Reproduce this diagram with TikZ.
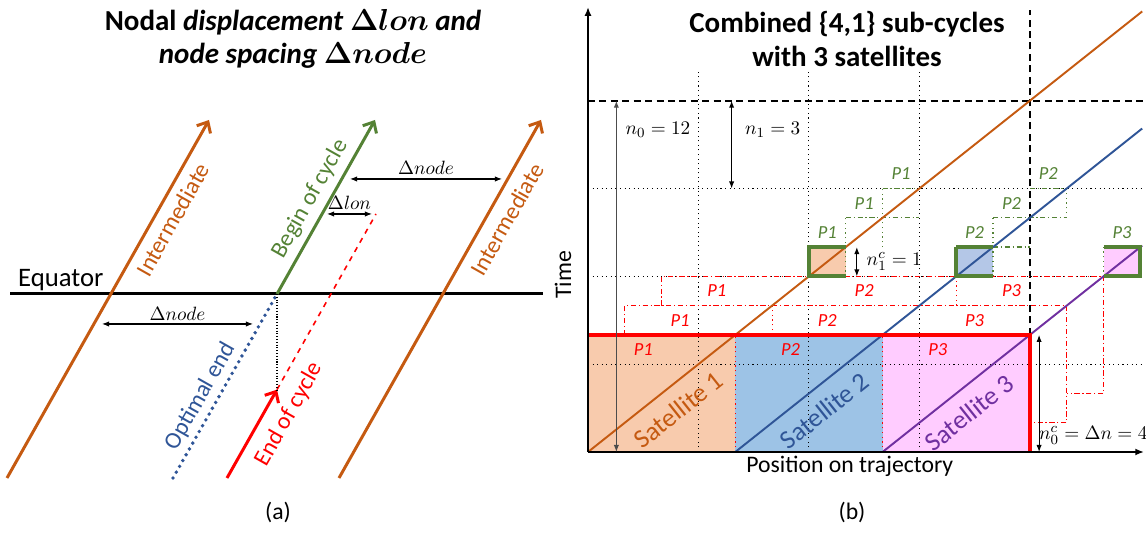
\documentclass[tikz,border=0pt]{standalone}
\usepackage{amsmath}
\usepackage{fontspec}
\setmainfont{Carlito}
\usetikzlibrary{arrows.meta}

\definecolor{satorange}{HTML}{C55A11}
\definecolor{satblue}{HTML}{2F5597}
\definecolor{satpurple}{HTML}{7030A0}
\definecolor{cycgreen}{HTML}{548235}
\definecolor{fillorange}{HTML}{F8CBAD}
\definecolor{fillblue}{HTML}{9DC3E6}
\definecolor{fillpink}{HTML}{FFCCFF}
\definecolor{filllightblue}{HTML}{B4C7E7}

\begin{document}
\begin{tikzpicture}[x=0.02cm, y=0.02cm,
    track/.style={line width=1.7pt, -{Straight Barb[length=5pt, width=9pt]}},
    dimarrow/.style={line width=0.6pt, {Latex[length=4pt, width=3pt]}-{Latex[length=4pt, width=3pt]}},
    lbl/.style={font=\fontsize{13.5}{16}\selectfont},
    ttl/.style={font=\fontsize{16.5}{19}\selectfont\bfseries, align=center},
    mlab/.style={font=\fontsize{11}{13}\selectfont},
    gridline/.style={black, line width=0.6pt, dotted},
    bound/.style={black, line width=1.2pt, dash pattern=on 4pt off 2.5pt},
    subred/.style={red, line width=0.7pt, dash pattern=on 3pt off 1.5pt on 0.7pt off 1.5pt},
    subgreen/.style={cycgreen, line width=0.7pt, dash pattern=on 3pt off 1.5pt on 0.7pt off 1.5pt},
    sepred/.style={red, line width=0.7pt, dotted},
    sepgreen/.style={cycgreen, line width=0.7pt, dotted},
    plab/.style={font=\fontsize{10.5}{12}\selectfont\itshape},
    sat/.style={line width=1.1pt},
    satlab/.style={font=\fontsize{15}{18}\selectfont, sloped, below=4pt},
]
  \useasboundingbox (0,0) rectangle (1146,550);

  % --- Titles ---
  \node[ttl] (titleA) at (293,511) {Nodal \textit{displacement} {\boldmath$\Delta lon$} \textit{and}\\ \textit{node spacing} {\boldmath$\Delta node$}};
  \node[ttl] (titleB) at (847,511) {Combined \{4,1\} sub-cycles\\ with 3 satellites};
  \node[lbl] (capA) at (278,38) {(a)};
  \node[lbl] (capB) at (852,38) {(b)};

  % ===== (a) nodal displacement =====
  \begin{scope}[shift={(277,256)}]
    % --- Coordinates ---
    \coordinate (eqW) at (-267,0);
    \coordinate (eqE) at (266,0);
    \coordinate (j) at (0,0); % cycle node on the equator
    \coordinate (beginTop) at (98,174);
    \coordinate (intLBot) at (-270,-184);
    \coordinate (intLTop) at (-68,174);
    \coordinate (intRBot) at (62,-184);
    \coordinate (intRTop) at (264,174);
    \coordinate (optBot) at (-104,-184);
    \coordinate (endBot) at (-50,-184);
    \coordinate (endTip) at (0,-95.6);
    \coordinate (endTop) at (99,80);

    % --- Equator ---
    \draw[line width=1.7pt] (eqW) -- (eqE);
    \node[lbl, font=\fontsize{15.2}{18}\selectfont, anchor=base west] (eqlabel) at (-265,7) {Equator};

    % --- Ground tracks ---
    \draw[track, satorange] (intLBot) -- (intLTop)
      node[lbl, pos=0.746, sloped, below=1pt] (intL) {Intermediate};
    \draw[track, satorange] (intRBot) -- (intRTop)
      node[lbl, pos=0.749, sloped, below=2pt] (intR) {Intermediate};
    \draw[track, cycgreen] (j) -- (beginTop)
      node[lbl, pos=0.497, sloped, above=0pt] (beginlab) {Begin of cycle};
    \draw[satblue, line width=2.2pt, line cap=round, dash pattern=on 0pt off 3.8pt] (optBot) -- (j)
      node[lbl, pos=0.40, sloped, above=-1pt] (optlab) {Optimal end};
    \draw[track, red] (endBot) -- (endTip)
      node[lbl, pos=0.845, sloped, below=3pt] (endlab) {End of cycle};
    \draw[red, line width=0.9pt, dashed] (endTip) -- (endTop);
    \draw[line width=0.6pt, densely dotted] (j) -- (endTip);

    % --- Spacing arrows ---
    \coordinate (lonA) at (50,80);
    \coordinate (lonB) at (95,80);
    \draw[dimarrow] (lonA) -- (lonB) node[mlab, midway, above=-1pt] (lonlab) {$\Delta lon$};
    \coordinate (nodeA) at (73,115);
    \coordinate (nodeB) at (225,115);
    \draw[dimarrow] (nodeA) -- (nodeB) node[mlab, midway, above=-1pt] (nodelab) {$\Delta node$};
    \coordinate (nodeC) at (-175,-30);
    \coordinate (nodeD) at (-24,-30);
    \draw[dimarrow] (nodeC) -- (nodeD) node[mlab, midway, above=-1.5pt] (nodelab2) {$\Delta node$};
  \end{scope}

  % ===== (b) combined sub-cycles =====
  \begin{scope}[shift={(588,98)}, x=0.7366cm, y=0.5856cm]
    % --- Coordinates ---
    \coordinate (o) at (0,0);
    \coordinate (xend) at (15.1,0);
    \coordinate (yend) at (0,15.2);

    % --- Partitions of the cycle ---
    \fill[fillorange] (0,0) rectangle (4,4);
    \fill[fillblue] (4,0) rectangle (8,4);
    \fill[fillpink] (8,0) rectangle (12,4);
    \fill[fillorange] (6,6) rectangle (7,7);
    \fill[filllightblue] (10,6) rectangle (11,7);
    \fill[fillpink] (14,6) rectangle (15,7);

    % --- Grid ---
    \foreach \x in {3,6,9} \draw[gridline] (\x,0) -- (\x,13);
    \foreach \y in {3,6,9} \draw[gridline] (0,\y) -- (15.1,\y);
    \draw[bound] (0,12) -- (15.1,12);
    \draw[bound] (12,4) -- (12,15.1);

    % --- Sub-cycles n1 (red) ---
    \draw[subred] (1,4) -- (1,5) -- (13,5) -- (13,1) -- (12,1);
    \draw[subred] (2,5) -- (2,6) -- (14,6) -- (14,2) -- (13,2);
    \draw[sepred] (4,0) -- (4,4);
    \draw[sepred] (8,0) -- (8,4);
    \draw[sepred] (5,4) -- (5,5);
    \draw[sepred] (10,5) -- (10,6);

    % --- Sub-cycles n1c (green) ---
    \draw[subgreen] (7,8) -- (9,8);
    \draw[subgreen] (8,9) -- (9,9);
    \draw[subgreen] (11,8) -- (13,8);
    \draw[subgreen] (12,9) -- (13,9);
    \draw[subgreen] (11,7) -- (12,7);
    \draw[sepgreen] (7,6) -- (7,8);
    \draw[sepgreen] (8,7) -- (8,9);
    \draw[sepgreen] (11,6) -- (11,8);
    \draw[sepgreen] (13,8) -- (13,9);
    \draw[sepgreen] (14,6) -- (14,7);

    % --- Satellites ---
    \coordinate (s1a) at (0,0);
    \coordinate (s1b) at (15.05,15.05);
    \coordinate (s2a) at (4,0);
    \coordinate (s2b) at (15.05,11.05);
    \coordinate (s3a) at (8,0);
    \coordinate (s3b) at (15.05,7.05);
    \draw[sat, satorange] (s1a) -- (s1b) node[satlab, pos=0.137] (sat1) {Satellite 1};
    \draw[sat, satblue] (s2a) -- (s2b) node[satlab, pos=0.184] (sat2) {Satellite 2};
    \draw[sat, satpurple] (s3a) -- (s3b) node[satlab, pos=0.278] (sat3) {Satellite 3};

    % --- Cycle borders ---
    \draw[red, line width=2.2pt] (0,4) -- (12,4) -- (12,0);
    \draw[cycgreen, line width=2.2pt] (7,7) -- (6,7) -- (6,6) -- (7,6);
    \draw[cycgreen, line width=2.2pt] (10,7) -- (11,7);
    \draw[cycgreen, line width=2.2pt] (11,6) -- (10,6) -- (10,7);
    \draw[cycgreen, line width=2.2pt] (14,7) -- (15,7) -- (15,6) -- (14,6);

    % --- Axes ---
    \draw[line width=1.4pt, -{Latex[length=5pt, width=4pt]}] (o) -- (xend);
    \draw[line width=1.4pt, -{Latex[length=5pt, width=4pt]}] (o) -- (yend);
    \node[lbl, rotate=90] (tlab) at (-0.68,6.05) {Time};
    \node[lbl] (xlab) at (7.11,-0.48) {Position on trajectory};

    % --- Cycle lengths ---
    \coordinate (n0a) at (0.77,0);
    \coordinate (n0b) at (0.77,12);
    \draw[dimarrow, black!70] (n0a) -- (n0b);
    \node[mlab, anchor=west] (n0lab) at (0.85,11.0) {$n_0 = 12$};
    \coordinate (n1a) at (3.9,12);
    \coordinate (n1b) at (3.9,9);
    \draw[dimarrow] (n1a) -- (n1b);
    \node[mlab, anchor=west] (n1lab) at (4.1,11.0) {$n_1 = 3$};
    \coordinate (n1ca) at (7.3,6);
    \coordinate (n1cb) at (7.3,7);
    \draw[dimarrow] (n1ca) -- (n1cb);
    \node[mlab, anchor=west] (n1clab) at (7.4,6.5) {$n_1^c = 1$};
    \coordinate (n0ca) at (12.25,0);
    \coordinate (n0cb) at (12.25,4);
    \draw[dimarrow] (n0ca) -- (n0cb);
    \node[mlab] (n0clab) at (13.72,0.58) {$n_0^c = \Delta n = 4$};

    % --- Partition labels ---
    \foreach \x/\y/\p [count=\i] in {1.5/3.5/P1, 5.5/3.5/P2, 9.5/3.5/P3,
        2.5/4.5/P1, 6.5/4.5/P2, 10.5/4.5/P3, 3.5/5.5/P1, 7.5/5.5/P2, 11.5/5.5/P3}
      \node[plab, red] (pr\i) at (\x,\y) {\p};
    \foreach \x/\y/\p [count=\i] in {6.5/7.5/P1, 7.5/8.5/P1, 8.5/9.5/P1,
        10.5/7.5/P2, 11.5/8.5/P2, 12.5/9.5/P2, 14.5/7.5/P3}
      \node[plab, cycgreen] (pg\i) at (\x,\y) {\p};
  \end{scope}
\end{tikzpicture}
\end{document}
